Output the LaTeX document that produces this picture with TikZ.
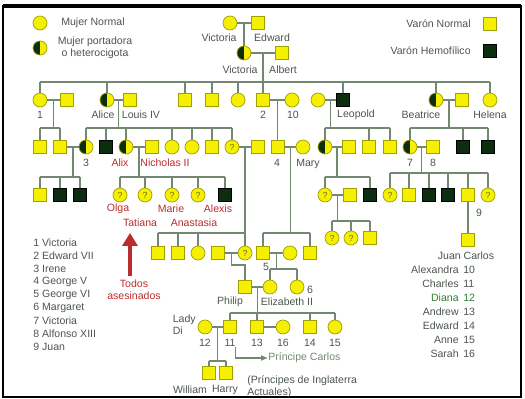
\documentclass[tikz,border=0pt]{standalone}
\usepackage{fontspec}
\setmainfont{Liberation Sans}
\usetikzlibrary{calc,arrows.meta}

\definecolor{amarillo}{RGB}{245,240,0}
\definecolor{borde}{RGB}{160,160,0}
\definecolor{oscuro}{RGB}{12,45,15}
\definecolor{linea}{RGB}{115,135,115}
\definecolor{texto}{RGB}{75,85,75}
\definecolor{rojo}{RGB}{185,45,45}
\definecolor{verde}{RGB}{50,125,50}

\tikzset{
  varon/.style={rectangle, draw=borde, fill=amarillo, minimum size=0.26cm, inner sep=0pt, line width=0.4pt},
  hemof/.style={varon, draw=black, fill=oscuro},
  mujer/.style={circle, draw=borde, fill=amarillo, minimum size=0.28cm, inner sep=0pt, line width=0.4pt},
  portadora/.style={mujer, path picture={\fill[oscuro] (path picture bounding box.north west) rectangle (path picture bounding box.south);}},
  duda/.style={mujer, font=\fontsize{5}{5}\selectfont, text=borde!70!black},
  lin/.style={draw=linea, line width=0.6pt},
  etq/.style={font=\fontsize{6}{7}\selectfont, text=texto, inner sep=0pt},
  etqroja/.style={etq, text=rojo},
}

\begin{document}
\begin{tikzpicture}[x=0.02cm,y=-0.02cm]
\useasboundingbox (0,0) rectangle (525,399);

% Marco
\draw[line width=1pt] (3,6) rectangle (521,397);
\draw[line width=2pt] (3,6) -- (521,6);

% Leyenda
\node[mujer] (lmujer) at (40,23) {};
\node[etq, anchor=west] (lmujert) at (61,23) {Mujer Normal};
\node[portadora] (lport) at (40,48) {};
\node[etq, align=center] (lportt) at (95,48) {Mujer portadora\\o heterocigota};
\node[varon] (lvaron) at (490,24) {};
\node[etq, anchor=east] (lvaront) at (471,24) {Varón Normal};
\node[hemof] (lhemof) at (490,51) {};
\node[etq, anchor=east] (lhemoft) at (471,51) {Varón Hemofílico};

% Generacion 0 y Victoria con Albert
\node[mujer] (vic0) at (230,23) {};
\node[varon] (edw0) at (258,23) {};
\node[etq] (tvic0) at (219,38) {Victoria};
\node[etq] (tedw0) at (272,38) {Edward};
\node[portadora] (vic1) at (244,53) {};
\node[varon] (albert) at (282,53) {};
\node[etq] (tvic1) at (240,70) {Victoria};
\node[etq] (talbert) at (283,70) {Albert};
\draw[lin] (vic0) -- (edw0);
\draw[lin] ($(vic0)!0.5!(edw0)$) -- (vic1);
\draw[lin] (vic1) -- (albert);

% Hijos de Victoria
\node[mujer] (v1) at (40,100) {};
\node[varon] (v1h) at (67,100) {};
\node[portadora] (alice) at (107,100) {};
\node[varon] (louis) at (130,100) {};
\node[varon] (s1) at (185,100) {};
\node[varon] (s2) at (212,100) {};
\node[mujer] (c1) at (238,100) {};
\node[varon] (edw7) at (263,100) {};
\node[mujer] (alexa) at (292,100) {};
\node[mujer] (leow) at (318,100) {};
\node[hemof] (leopold) at (343,100) {};
\node[portadora] (beatrice) at (436,100) {};
\node[varon] (henry) at (462,100) {};
\node[mujer] (helena) at (490,100) {};
\node[etq] (t1) at (40,115) {1};
\node[etq] (talice) at (103,115) {Alice};
\node[etq] (tlouis) at (141,115) {Louis IV};
\node[etq] (t2) at (263,115) {2};
\node[etq] (t10) at (293,115) {10};
\node[etq] (tleopold) at (356,115) {Leopold};
\node[etq] (tbeatrice) at (421,115) {Beatrice};
\node[etq] (thelena) at (490,115) {Helena};

\coordinate (barA) at (0,82);
\draw[lin] ($(vic1)!0.5!(albert)$) coordinate (mA) -- (mA |- barA);
\draw[lin] (v1 |- barA) -- (helena |- barA);
\foreach \n in {v1,alice,s1,s2,c1,edw7,leopold,beatrice,helena}
  \draw[lin] (\n) -- (\n |- barA);
\foreach \a/\b in {v1/v1h,alice/louis,edw7/alexa,leow/leopold,beatrice/henry}
  \draw[lin] (\a) -- (\b);

% Nietos
\node[varon] (a1) at (40,147) {};
\node[varon] (a2) at (60,147) {};
\node[portadora] (irene) at (86,147) {};
\node[hemof] (fritz) at (106,147) {};
\node[portadora] (alix) at (126,147) {};
\node[varon] (nicholas) at (152,147) {};
\node[mujer] (e1) at (172,147) {};
\node[mujer] (e2) at (192,147) {};
\node[varon] (e3) at (212,147) {};
\node[duda] (vich) at (232,147) {?};
\node[varon] (louisb) at (258,147) {};
\node[varon] (george5) at (277.5,147) {};
\node[mujer] (mary) at (303,147) {};
\node[portadora] (aliceal) at (325,147) {};
\node[varon] (alexcam) at (349,147) {};
\node[varon] (l1) at (369,147) {};
\node[varon] (l2) at (390,147) {};
\node[portadora] (veug) at (410,147) {};
\node[varon] (alfonso) at (433,147) {};
\node[hemof] (b1) at (463,147) {};
\node[hemof] (b2) at (488,147) {};
\node[etq] (t3) at (86,163) {3};
\node[etqroja] (talix) at (120,163) {Alix};
\node[etqroja] (tnicholas) at (165,163) {Nicholas II};
\node[etq] (t4) at (277,163) {4};
\node[etq] (tmary) at (308,164) {Mary};
\node[etq] (t7) at (410,163) {7};
\node[etq] (t8) at (433,163) {8};

\coordinate (barB) at (0,128);
\draw[lin] ($(v1)!0.5!(v1h)$) coordinate (mB) -- (mB |- barB);
\draw[lin] (a1 |- barB) -- (a2 |- barB);
\draw[lin] ($(alice)!0.5!(louis)$) coordinate (mD) -- (mD |- barB);
\draw[lin] (irene |- barB) -- (vich |- barB);
\draw[lin] ($(leow)!0.5!(leopold)$) coordinate (mH) -- (mH |- barB);
\draw[lin] (aliceal |- barB) -- (l2 |- barB);
\draw[lin] ($(beatrice)!0.5!(henry)$) coordinate (mK) -- (mK |- barB);
\draw[lin] (veug |- barB) -- (b2 |- barB);
\foreach \n in {a1,a2,irene,fritz,alix,e1,e2,e3,vich,aliceal,l1,l2,veug,b1,b2}
  \draw[lin] (\n) -- (\n |- barB);
\draw[lin] ($(edw7)!0.5!(alexa)$) -- (george5);
\foreach \a/\b in {a2/irene,alix/nicholas,vich/louisb,george5/mary,aliceal/alexcam,veug/alfonso}
  \draw[lin] (\a) -- (\b);

% Bisnietos
\node[varon] (g1) at (40,195) {};
\node[hemof] (g2) at (60,195) {};
\node[hemof] (g3) at (80,195) {};
\node[duda] (olga) at (120,195) {?};
\node[duda] (tatiana) at (145,195) {?};
\node[duda] (marie) at (172,195) {?};
\node[duda] (anast) at (198,195) {?};
\node[hemof] (alexis) at (225,195) {};
\node[duda] (q1) at (325,195) {?};
\node[varon] (q1h) at (350,195) {};
\node[hemof] (q2) at (370,195) {};
\node[duda] (k1) at (390,195) {?};
\node[varon] (k2) at (409,195) {};
\node[hemof] (k3) at (429,195) {};
\node[hemof] (k4) at (448,195) {};
\node[varon] (juan) at (468,195) {};
\node[duda] (k6) at (488,195) {?};
\node[etqroja] (tolga) at (118,209) {Olga};
\node[etqroja] (tmarie) at (171,209) {Marie};
\node[etqroja] (talexis) at (218,209) {Alexis};
\node[etqroja] (ttatiana) at (140,223) {Tatiana};
\node[etqroja] (tanast) at (194,223) {Anastasia};
\node[etq] (t9) at (479,213) {9};

\coordinate (barC) at (0,177);
\draw[lin] ($(a2)!0.5!(irene)$) coordinate (mC) -- (mC |- barC);
\draw[lin] (g1 |- barC) -- (g3 |- barC);
\draw[lin] ($(alix)!0.5!(nicholas)$) coordinate (mE) -- (mE |- barC);
\draw[lin] (olga |- barC) -- (alexis |- barC);
\draw[lin] ($(aliceal)!0.5!(alexcam)$) coordinate (mI) -- (mI |- barC);
\draw[lin] (q1 |- barC) -- (q2 |- barC);
\foreach \n in {g1,g2,g3,olga,tatiana,marie,anast,alexis,q1,q2}
  \draw[lin] (\n) -- (\n |- barC);
\coordinate (barL) at (0,173);
\draw[lin] ($(veug)!0.5!(alfonso)$) coordinate (mL) -- (mL |- barL);
\draw[lin] (k1 |- barL) -- (k6 |- barL);
\foreach \n in {k1,k2,k3,k4,juan,k6}
  \draw[lin] (\n) -- (\n |- barL);
\draw[lin] (q1) -- (q1h);

% Descendientes de Alice de Albany y Juan Carlos
\node[duda] (r1) at (332,238) {?};
\node[duda] (r2) at (351,238) {?};
\node[varon] (r3) at (370,238) {};
\coordinate (barJ) at (0,221);
\draw[lin] ($(q1)!0.5!(q1h)$) coordinate (mJ) -- (mJ |- barJ);
\draw[lin] (r1 |- barJ) -- (r3 |- barJ);
\foreach \n in {r1,r2,r3}
  \draw[lin] (\n) -- (\n |- barJ);
\node[varon] (jcarlos) at (468,240) {};
\node[etq] (tjcarlos) at (466,256) {Juan Carlos};
\draw[lin] (juan) -- (jcarlos);

% Rama inglesa
\node[varon] (bt1) at (158,253) {};
\node[varon] (bt2) at (178,253) {};
\node[mujer] (bt3) at (198,253) {};
\node[varon] (andrew) at (218,253) {};
\node[duda] (aliceb) at (245,253) {?};
\node[varon] (george6) at (263,253) {};
\node[mujer] (queenm) at (290,253) {};
\node[varon] (gs2) at (310,253) {};
\node[etq] (t5) at (266,267) {5};
\coordinate (barF) at (0,233);
\draw[lin] ($(vich)!0.5!(louisb)$) coordinate (mF) -- (mF |- barF);
\draw[lin] (bt1 |- barF) -- (aliceb |- barF);
\foreach \n in {bt1,bt2,bt3,aliceb}
  \draw[lin] (\n) -- (\n |- barF);
\draw[lin] ($(george5)!0.5!(mary)$) coordinate (mG) -- (mG |- barF);
\draw[lin] (george6 |- barF) -- (gs2 |- barF);
\foreach \n in {george6,gs2}
  \draw[lin] (\n) -- (\n |- barF);
\draw[lin] (andrew) -- (aliceb);
\draw[lin] (george6) -- (queenm);

\node[varon] (philip) at (245,287) {};
\node[mujer] (eliz2) at (270,287) {};
\node[mujer] (marg) at (297,287) {};
\node[etq] (tphilip) at (230,302) {Philip};
\node[etq] (teliz2) at (287,302) {Elizabeth II};
\node[etq] (t6) at (310,290) {6};
\draw[lin] ($(andrew)!0.5!(aliceb)$) -- ++(0,12) -| (philip);
\coordinate (barM) at (0,269);
\draw[lin] ($(george6)!0.5!(queenm)$) coordinate (mM) -- (mM |- barM);
\draw[lin] (eliz2 |- barM) -- (marg |- barM);
\foreach \n in {eliz2,marg}
  \draw[lin] (\n) -- (\n |- barM);
\draw[lin] (philip) -- (eliz2);

\node[mujer] (diana) at (205,327) {};
\node[varon] (charles) at (230,327) {};
\node[varon] (andrewp) at (257,327) {};
\node[mujer] (sarah) at (283,327) {};
\node[varon] (edwardp) at (310,327) {};
\node[mujer] (anne) at (335,327) {};
\node[etq, align=left, anchor=east] (tdiana) at (196,325) {Lady\\Di};
\foreach \n/\t in {diana/12,charles/11,andrewp/13,sarah/16,edwardp/14,anne/15}
  \node[etq] (t\t) at (\n |- 0,343) {\t};
\coordinate (barN) at (0,313);
\draw[lin] ($(philip)!0.5!(eliz2)$) coordinate (mN) -- (mN |- barN);
\draw[lin] (charles |- barN) -- (anne |- barN);
\foreach \n in {charles,andrewp,edwardp,anne}
  \draw[lin] (\n) -- (\n |- barN);
\draw[lin] (diana) -- (charles);
\draw[lin] (andrewp) -- (sarah);

\node[varon] (william) at (209,373) {};
\node[varon] (harry) at (226,373) {};
\node[etq] (twilliam) at (190,390) {William};
\node[etq] (tharry) at (225,390) {Harry};
\coordinate (barO) at (0,361);
\draw[lin] ($(diana)!0.5!(charles)$) coordinate (mO) -- (mO |- barO);
\draw[lin] (william |- barO) -- (harry |- barO);
\foreach \n in {william,harry}
  \draw[lin] (\n) -- (\n |- barO);

\node[etq, anchor=west, text=linea] (pcarlos) at (268,358) {Príncipe Carlos};
\draw[lin, -{Latex[length=1.4mm,width=1.2mm]}] ([xshift=3pt]t11.south) |- (pcarlos);
\node[etq, align=left, anchor=west] (tprincipes) at (247,387) {(Príncipes de Inglaterra\\Actuales)};

% Todos asesinados
\node[etqroja, align=center] (todos) at (134,290) {Todos\\asesinados};
\coordinate (puntaroja) at (130,233);
\draw[rojo, line width=1mm, -{Triangle[length=2.6mm,width=3mm]}] (puntaroja |- todos.north) ++(0,-4) -- (puntaroja);

% Listas de referencia
\foreach \i/\nom in {1/Victoria,2/Edward VII,3/Irene,4/George V,5/George VI,6/Margaret,7/Victoria,8/Alfonso XIII,9/Juan}
  \node[etq, anchor=west] (ref\i) at (33,{230+13*\i}) {\i\ \nom};
\foreach \nom/\num/\yy/\col in {Alexandra/10/270/texto,Charles/11/284/texto,Diana/12/298/verde,Andrew/13/312/texto,Edward/14/326/texto,Anne/15/340/texto,Sarah/16/354/texto}{
  \node[etq, anchor=east, text=\col] (lista\num) at (459,\yy) {\nom};
  \node[etq, anchor=west, text=\col] (num\num) at (463,\yy) {\num};
}
\end{tikzpicture}
\end{document}
